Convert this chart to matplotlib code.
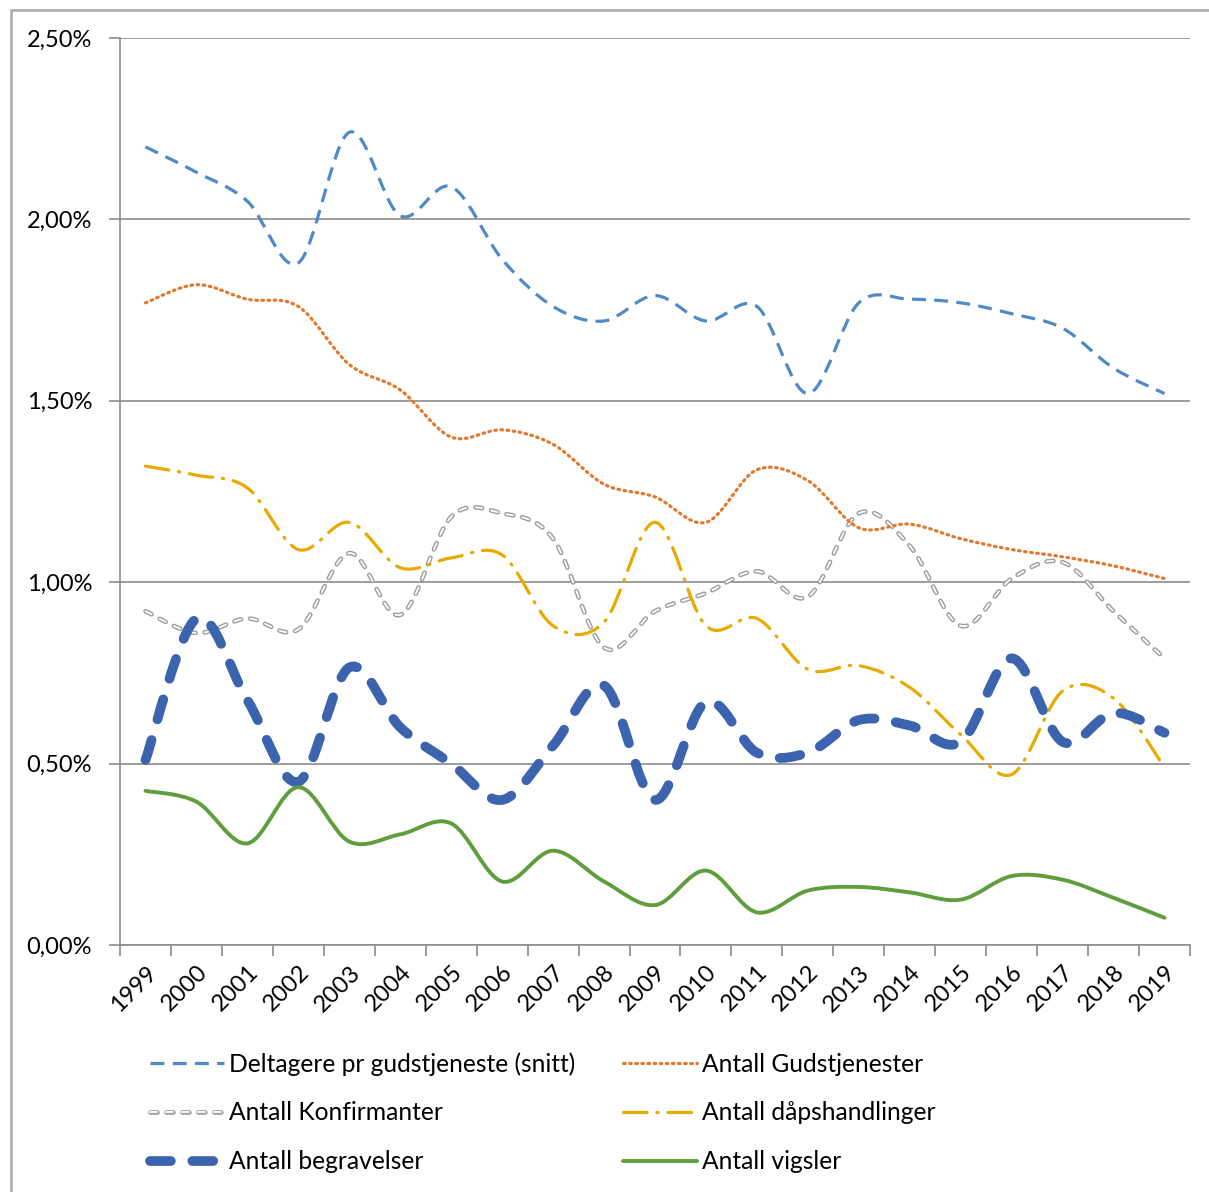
import numpy as np
import matplotlib.pyplot as plt
from matplotlib.path import Path
from matplotlib.patches import PathPatch, Rectangle
from matplotlib.lines import Line2D

plt.rcParams['font.family'] = ['Lato', 'DejaVu Sans']
plt.rcParams['lines.scale_dashes'] = False

years = [str(y) for y in range(1999, 2020)]

deltagere = [2.20, 2.13, 2.05, 1.88, 2.24, 2.01, 2.09, 1.89, 1.76, 1.72, 1.79,
             1.72, 1.76, 1.52, 1.77, 1.78, 1.77, 1.74, 1.70, 1.59, 1.52]
gudstjenester = [1.77, 1.82, 1.78, 1.76, 1.60, 1.53, 1.40, 1.42, 1.38, 1.27, 1.235,
                 1.165, 1.31, 1.28, 1.15, 1.16, 1.12, 1.09, 1.07, 1.045, 1.01]
konfirmanter = [0.92, 0.86, 0.90, 0.87, 1.08, 0.91, 1.18, 1.19, 1.12, 0.82, 0.92,
                0.97, 1.03, 0.96, 1.19, 1.10, 0.88, 1.01, 1.055, 0.92, 0.79]
dapshandlinger = [1.32, 1.295, 1.26, 1.09, 1.165, 1.04, 1.067, 1.075, 0.88, 0.89, 1.165,
                  0.88, 0.90, 0.76, 0.77, 0.71, 0.58, 0.47, 0.70, 0.68, 0.49]
begravelser = [0.51, 0.90, 0.675, 0.45, 0.765, 0.60, 0.50, 0.40, 0.55, 0.715, 0.40,
               0.67, 0.53, 0.53, 0.62, 0.605, 0.56, 0.79, 0.56, 0.64, 0.585]
vigsler = [0.425, 0.395, 0.28, 0.435, 0.285, 0.305, 0.335, 0.175, 0.26, 0.175, 0.11,
           0.205, 0.09, 0.15, 0.16, 0.145, 0.125, 0.19, 0.18, 0.13, 0.075]

labels = ["Deltagere pr gudstjeneste (snitt)", "Antall Gudstjenester",
          "Antall Konfirmanter", "Antall dåpshandlinger",
          "Antall begravelser", "Antall vigsler"]


def smooth_path(x, y):
    # Excel-like smoothed line: cubic bezier through every point
    pts = np.column_stack([x, y])
    n = len(pts)
    verts = [pts[0]]
    codes = [Path.MOVETO]
    for i in range(n - 1):
        p0 = pts[i - 1] if i > 0 else pts[i]
        p1, p2 = pts[i], pts[i + 1]
        p3 = pts[i + 2] if i + 2 < n else pts[i + 1]
        c1 = p1 + (p2 - p0) / 6
        c2 = p2 - (p3 - p1) / 6
        verts += [c1, c2, p2]
        codes += [Path.CURVE4] * 3
    return Path(verts, codes)


fig = plt.figure(figsize=(12.09, 11.92), dpi=100)
ax = fig.add_axes([120 / 1209, 1 - 945 / 1192, 1070 / 1209, 907 / 1192])

x = np.arange(len(years))

# (values, color, width, dashes, capstyle)
styles = [
    (deltagere, '#4F8AC6', 2.3, (0, (10, 6)), 'butt'),
    (gudstjenester, '#E07A2E', 2.3, (0, (1.2, 3.2)), 'round'),
    (dapshandlinger, '#E8AA00', 2.3, (0, (17, 7, 1, 7)), 'round'),
    (begravelser, '#3C64AE', 7, (0, (15, 15.5)), 'round'),
    (vigsler, '#5F9E3C', 2.8, '-', 'round'),
]

gray_dash = (0, (5, 6.5))

# hollow grey dashes for Konfirmanter
pk = smooth_path(x, konfirmanter)
ax.add_patch(PathPatch(pk, fill=False, edgecolor='#9C9C9C', lw=3.3,
                       linestyle=gray_dash, capstyle='round', zorder=3))
ax.add_patch(PathPatch(pk, fill=False, edgecolor='white', lw=1.3,
                       linestyle=gray_dash, capstyle='round', zorder=3.1))

for vals, col, lw, ls, cap in styles:
    p = smooth_path(x, vals)
    ax.add_patch(PathPatch(p, fill=False, edgecolor=col, lw=lw,
                           linestyle=ls, capstyle=cap, zorder=4))

yt = [0, 0.5, 1.0, 1.5, 2.0, 2.5]
ax.set_xlim(-0.5, len(years) - 0.5)
ax.set_ylim(0, 2.5)
ax.set_yticks(yt)
ax.set_yticklabels([f"{v:.2f}%".replace('.', ',') for v in yt], fontsize=17)
ax.set_xticks(x)
ax.set_xticklabels(years, rotation=45, ha='right', va='top', rotation_mode='anchor', fontsize=17)
ax.set_xticks(np.arange(-0.5, len(years)), minor=True)
ax.tick_params(axis='x', which='major', length=0, pad=12)
ax.tick_params(axis='x', which='minor', length=8, color='#8C8C8C', width=1.2)
ax.tick_params(axis='y', length=8, color='#8C8C8C', width=1.2, pad=12)
ax.grid(axis='y', color='#8C8C8C', lw=1.2)
ax.set_axisbelow(True)
for s in ['top', 'right']:
    ax.spines[s].set_visible(False)
for s in ['left', 'bottom']:
    ax.spines[s].set_color('#8C8C8C')
    ax.spines[s].set_linewidth(1.2)


def hline(col, lw, ls, cap):
    return Line2D([], [], color=col, lw=lw, linestyle=ls, dash_capstyle=cap, solid_capstyle=cap)


h = [hline(c, lw, ls, cap) for _, c, lw, ls, cap in styles]
hk = (Line2D([], [], color='#9C9C9C', lw=3.3, linestyle=gray_dash, dash_capstyle='round'),
      Line2D([], [], color='white', lw=1.3, linestyle=gray_dash, dash_capstyle='round'))
# row-wise order for a two-column legend
handles = [h[0], hk, h[3], h[1], h[2], h[4]]
order_labels = [labels[0], labels[2], labels[4], labels[1], labels[3], labels[5]]
fig.legend(handles, order_labels, ncol=2, loc='upper left',
           bbox_to_anchor=(150 / 1209, 1 - 1052 / 1192), borderpad=0, borderaxespad=0,
           frameon=False, fontsize=17.7, handlelength=3.0, handletextpad=0.2,
           columnspacing=1.95, labelspacing=1.05)

fig.add_artist(Rectangle((11 / 1209, -0.05), 1.2, 1.05 - 10 / 1192, transform=fig.transFigure,
                         fill=False, edgecolor='#B0B0B0', lw=2))

fig.savefig('out.png', dpi=100)
